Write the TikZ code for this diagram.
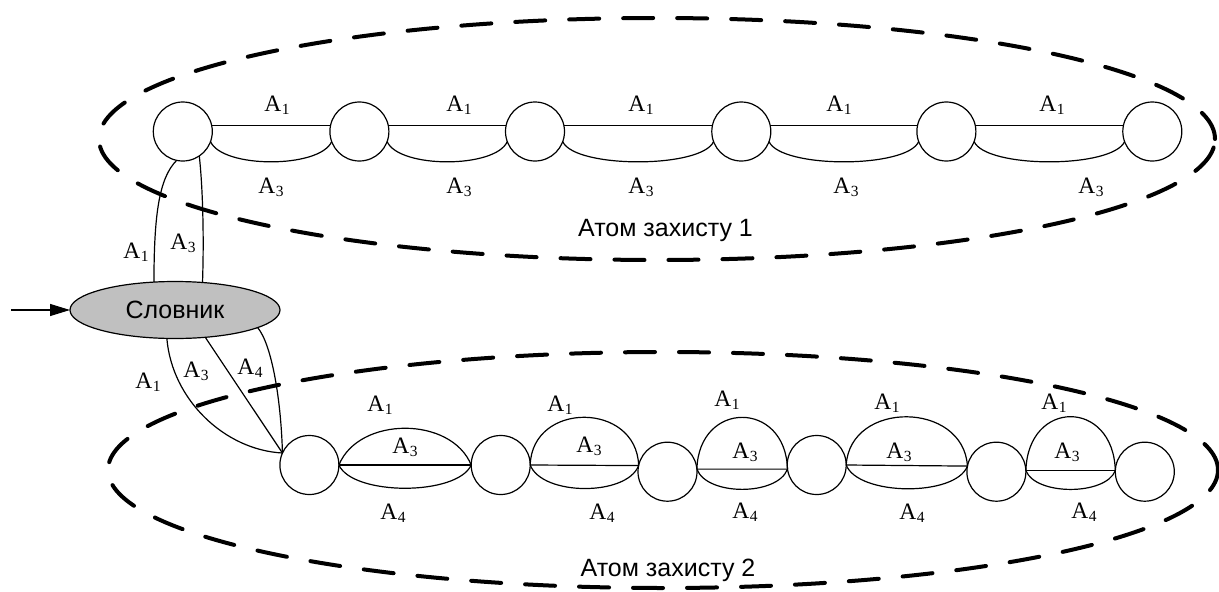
\documentclass[tikz,border=0pt]{standalone}
\usepackage{fontspec}
\setmainfont{Liberation Serif}
\setsansfont{Liberation Sans}
\usetikzlibrary{shapes.geometric,arrows.meta}
\definecolor{slovfill}{RGB}{192,192,192}
% letter A with a lowered index digit
\newcommand\Asub[1]{A\kern0.3pt\raisebox{-2.7pt}{\fontsize{15.5}{15.5}\selectfont #1}}
\begin{document}
\begin{tikzpicture}[x=1pt,y=-1pt,
  vert/.style={circle,draw,line width=1.2pt,minimum size=59pt,inner sep=0pt,outer sep=0pt},
  edge/.style={line width=1.2pt},
  lbl/.style={font=\fontsize{23.5}{24}\selectfont,inner sep=0pt},
  captext/.style={font=\sffamily\fontsize{25}{27}\selectfont,inner sep=0pt,anchor=base},
  atom/.style={line width=4pt,dash pattern=on 30pt off 24pt,line cap=round}]
\useasboundingbox (0,0) rectangle (1219,592);

% protection atoms
\draw[atom] (657,139) ellipse [x radius=558pt, y radius=121pt];
\draw[atom] (663,470) ellipse [x radius=555pt, y radius=118pt];

% dictionary
\node[ellipse,draw,fill=slovfill,line width=1.2pt,minimum width=210pt,minimum height=57pt,
      inner sep=0pt,outer sep=0pt,font=\sffamily\fontsize{25}{27}\selectfont] (slov) at (175,310) {Словник};
\coordinate (in) at (11,310);
\draw[edge,-{Triangle[length=20pt,width=12pt]}] (in) -- (slov.west);

% first chain
\foreach \i/\x in {1/182.8,2/359.4,3/535,4/741.3,5/946.4,6/1152.3}
  \node[vert] (t\i) at (\x,131.5) {};
\foreach \i/\j in {1/2,2/3,3/4,4/5,5/6}{
  \draw[edge] (t\i.12) -- (t\j.168);
  \draw[edge] (t\i.-20) .. controls +(12,27) and +(-12,27) .. (t\j.200);
}
\foreach \x [count=\k] in {277,459,641,839,1052}
  \node[lbl] (ta\k) at (\x,105) {\Asub{1}};
\foreach \x [count=\k] in {271,459,641,846,1091}
  \node[lbl] (tb\k) at (\x,187) {\Asub{3}};

% second chain
\node[vert] (b1) at (309.4,465) {};
\node[vert] (b2) at (500.7,465) {};
\node[vert] (b3) at (667.5,471.7) {};
\node[vert] (b4) at (816.7,465) {};
\node[vert] (b5) at (996.4,471.7) {};
\node[vert] (b6) at (1144.8,471.7) {};

\draw[edge] (b1.0) -- (b2.180);
\draw[edge] (b1.0) .. controls +(20,-49) and +(-20,-49) .. (b2.180);
\draw[edge] (b1.0) .. controls +(14,31) and +(-14,31) .. (b2.180);

\draw[edge] (b2.0) -- (b3.168);
\draw[edge] (b2.0) .. controls +(2,-64) and +(-2,-64) .. (b3.168);
\draw[edge] (b2.0) .. controls +(12,31) and +(-12,31) .. (b3.168);

\draw[edge] (b3.5) -- (b4.188);
\draw[edge] (b3.5) .. controls +(2,-69) and +(-2,-69) .. (b4.188);
\draw[edge] (b3.5) .. controls +(10,27) and +(-10,27) .. (b4.188);

\draw[edge] (b4.0) -- (b5.169);
\draw[edge] (b4.0) .. controls +(4,-65) and +(-4,-65) .. (b5.169);
\draw[edge] (b4.0) .. controls +(12,31) and +(-12,31) .. (b5.169);

\draw[edge] (b5.2) -- (b6.178);
\draw[edge] (b5.2) .. controls +(2,-72) and +(-2,-72) .. (b6.178);
\draw[edge] (b5.2) .. controls +(10,25) and +(-10,25) .. (b6.178);

\node[lbl] (ba1) at (380,405) {\Asub{1}};
\node[lbl] (bb1) at (405,447) {\Asub{3}};
\node[lbl] (bc1) at (393,513) {\Asub{4}};
\node[lbl] (ba2) at (560,405) {\Asub{1}};
\node[lbl] (bb2) at (589,446) {\Asub{3}};
\node[lbl] (bc2) at (602,513) {\Asub{4}};
\node[lbl] (ba3) at (727,400) {\Asub{1}};
\node[lbl] (bb3) at (745,452) {\Asub{3}};
\node[lbl] (bc3) at (745,512) {\Asub{4}};
\node[lbl] (ba4) at (887,403) {\Asub{1}};
\node[lbl] (bb4) at (899,452) {\Asub{3}};
\node[lbl] (bc4) at (912,513) {\Asub{4}};
\node[lbl] (ba5) at (1054,403) {\Asub{1}};
\node[lbl] (bb5) at (1067,452) {\Asub{3}};
\node[lbl] (bc5) at (1084,512) {\Asub{4}};

% links from the dictionary
\draw[edge] (t1.258) .. controls (159,178) and (154,215) .. (slov.127);
\draw[edge] (t1.-56) .. controls (203,190) and (204,240) .. (slov.45);
\node[lbl] (la1) at (136,252) {\Asub{1}};
\node[lbl] (la3) at (183,243) {\Asub{3}};

\draw[edge] (slov.254) .. controls (172,400) and (225,450) .. (b1.156);
\draw[edge] (slov.318) -- (b1.156);
\draw[edge] (slov.348) .. controls (272,345) and (281,400) .. (b1.156);
\node[lbl] (lb1) at (148,382) {\Asub{1}};
\node[lbl] (lb3) at (196,371) {\Asub{3}};
\node[lbl] (lb4) at (250,368) {\Asub{4}};

% captions
\node[captext] (cap1) at (665.5,236.7) {Атом захисту 1};
\node[captext] (cap2) at (668,576.7) {Атом захисту 2};
\end{tikzpicture}
\end{document}
